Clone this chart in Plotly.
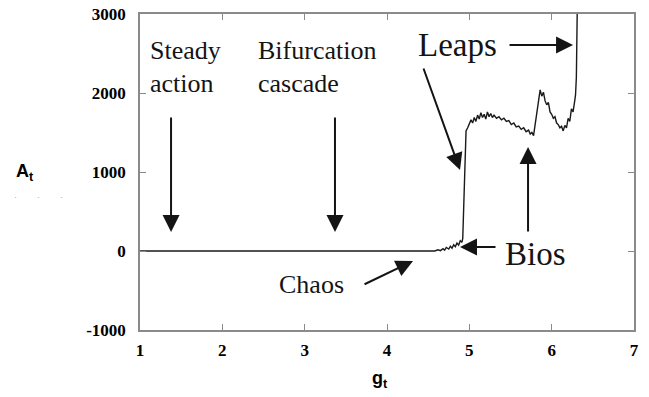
import plotly.graph_objects as go

# ---- data ----
g_t = [1.0, 4.50, 4.58, 4.62, 4.65, 4.68, 4.70, 4.72, 4.75, 4.77, 4.79, 4.81, 4.83, 4.85,
       4.87, 4.89, 4.91, 4.92, 4.93, 4.94, 4.95, 4.96, 4.98, 5.00, 5.02, 5.04, 5.06, 5.08,
       5.10, 5.12, 5.14, 5.16, 5.18, 5.20, 5.22, 5.24, 5.26, 5.28, 5.30, 5.33, 5.36, 5.39,
       5.42, 5.45, 5.48, 5.51, 5.54, 5.57, 5.60, 5.63, 5.66, 5.69, 5.72, 5.74, 5.76, 5.78,
       5.80, 5.82, 5.84, 5.86, 5.88, 5.90, 5.92, 5.94, 5.96, 5.98, 6.00, 6.02, 6.04, 6.06,
       6.08, 6.10, 6.12, 6.14, 6.16, 6.18, 6.20, 6.22, 6.24, 6.26, 6.28, 6.29, 6.30, 6.31]
A_t = [0, 0, 0, 15, 5, 30, 10, 45, 25, 60, 35, 80, 55, 100,
       75, 130, 110, 160, 500, 1000, 1400, 1520, 1560, 1600, 1660, 1620, 1690, 1640,
       1720, 1670, 1750, 1690, 1730, 1670, 1760, 1700, 1740, 1690, 1720, 1680, 1700, 1660,
       1680, 1640, 1650, 1600, 1620, 1570, 1580, 1540, 1560, 1510, 1530, 1480, 1500, 1460,
       1620, 1780, 1880, 2040, 1960, 2010, 1900, 1850, 1880, 1760, 1730, 1680, 1700, 1620,
       1600, 1560, 1580, 1520, 1590, 1560, 1680, 1640, 1800, 1760, 1900, 1980, 2200, 3000]

x_ticks = [1, 2, 3, 4, 5, 6, 7]
y_ticks = [-1000, 0, 1000, 2000, 3000]
y_tick_labels = ["-1000", "0", "1000", "2000", "3000"]

axis_color = "#8a8a8a"
ink = "#141414"
serif = "Liberation Serif"
sans = "Liberation Sans"

fig = go.Figure()
fig.add_trace(go.Scatter(x=g_t, y=A_t, mode="lines",
                         line=dict(color="#1a1a1a", width=1.4), hoverinfo="skip",
                         showlegend=False, cliponaxis=False))

fig.update_layout(
    width=649, height=397,
    margin=dict(l=140, r=15, t=14, b=67, autoexpand=False),
    paper_bgcolor="white", plot_bgcolor="white",
    showlegend=False,
)
fig.update_xaxes(range=[1, 7], tickvals=x_ticks, showgrid=False, zeroline=False,
                 showline=True, linecolor=axis_color, linewidth=1.6, mirror="ticks",
                 ticks="inside", ticklen=6, tickcolor=axis_color, tickwidth=1.3,
                 tickfont=dict(family=serif, size=17, color="black", weight="bold"),
                 ticklabelstandoff=4, automargin=False, ticklabeloverflow="allow")
fig.update_yaxes(range=[-1000, 3000], tickvals=y_ticks, ticktext=y_tick_labels,
                 showgrid=False, zeroline=False,
                 showline=True, linecolor=axis_color, linewidth=1.6, mirror="ticks",
                 ticks="inside", ticklen=6, tickcolor=axis_color, tickwidth=1.3,
                 tickfont=dict(family=serif, size=17, color="black", weight="bold"),
                 ticklabelstandoff=9, automargin=False, ticklabeloverflow="allow")

ann = []
# axis titles
ann.append(dict(xref="paper", yref="paper", x=-0.233, y=0.50, xanchor="center", yanchor="middle",
                text="<b>A<sub>t</sub></b>", showarrow=False,
                font=dict(family=sans, size=18, color="black")))
ann.append(dict(xref="paper", yref="paper", x=0.486, y=-0.158, xanchor="center", yanchor="middle",
                text="<b>g<sub>t</sub></b>", showarrow=False,
                font=dict(family=sans, size=18, color="black")))
ann.append(dict(xref="paper", yref="paper", x=-0.205, y=0.42, xanchor="center", yanchor="middle",
                text="·        ·        ·", showarrow=False,
                font=dict(family=sans, size=9, color="#aaaaaa")))

# text labels
def label(x, y, t, size):
    ann.append(dict(xref="x", yref="y", x=x, y=y, xanchor="left", yanchor="middle",
                    text=t, showarrow=False, font=dict(family=serif, size=size, color=ink)))

label(1.097, 2540, "Steady", 26)
label(1.097, 2115, "action", 26)
label(2.409, 2540, "Bifurcation", 26)
label(2.409, 2115, "cascade", 26)
label(4.352, 2605, "Leaps", 33)
label(5.409, -40, "Bios", 33)
label(2.664, -420, "Chaos", 26)

# arrows: (tail x, tail y) -> (head x, head y)
def arrow(tx, ty, hx, hy):
    ann.append(dict(xref="x", yref="y", axref="x", ayref="y", x=hx, y=hy, ax=tx, ay=ty,
                    text="", showarrow=True, arrowhead=2, arrowsize=1.7, arrowwidth=2,
                    arrowcolor=ink, standoff=0, startstandoff=0))

arrow(1.377, 1709, 1.377, 240)
arrow(3.368, 1709, 3.368, 240)
arrow(5.47, 2608, 6.26, 2608)
arrow(4.437, 2329, 4.887, 1025)
arrow(5.713, 228, 5.713, 1317)
arrow(5.336, 51, 4.887, 51)
arrow(3.709, -430, 4.316, -127)

fig.update_layout(annotations=ann)
fig.write_html("out.html", config={"displayModeBar": False},
               post_script="document.body.style.margin='0';document.body.style.overflow='hidden';")
